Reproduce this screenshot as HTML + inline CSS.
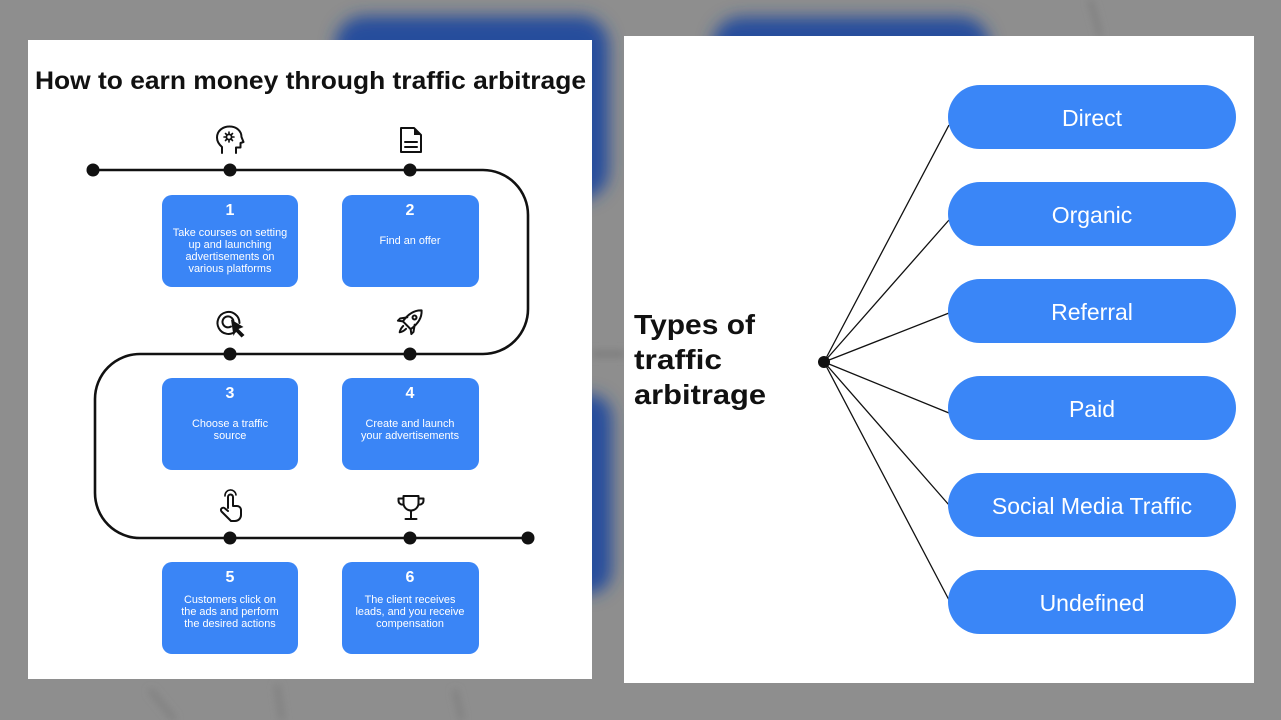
<!DOCTYPE html>
<html><head><meta charset="utf-8"><style>
html,body{margin:0;padding:0;background:#8e8e8e;}
svg{display:block}
text{font-family:"Liberation Sans",Arial,sans-serif}
</style></head><body>
<svg width="1281" height="720" viewBox="0 0 1281 720" xmlns="http://www.w3.org/2000/svg">
<defs>
<filter id="bl" x="-20%" y="-20%" width="140%" height="140%"><feGaussianBlur stdDeviation="8"/></filter>
<filter id="bl2" x="-20%" y="-50%" width="140%" height="200%"><feGaussianBlur stdDeviation="4"/></filter>
</defs>
<rect x="0" y="0" width="1281" height="720" fill="#8e8e8e"/>
<g filter="url(#bl)" fill="#284e9c">
<rect x="335" y="16" width="274" height="184" rx="30"/>
<rect x="712" y="17" width="278" height="110" rx="30"/>
<rect x="540" y="394" width="72" height="200" rx="24"/>
</g>
<g filter="url(#bl2)">
<rect x="592" y="351" width="32" height="6" fill="#7a7a7a"/>
<path d="M150,690 L175,720" stroke="#7c7c7c" stroke-width="4" fill="none"/>
<path d="M277,685 L282,720" stroke="#7c7c7c" stroke-width="4" fill="none"/>
<path d="M455,690 L462,720" stroke="#7c7c7c" stroke-width="4" fill="none"/>
<path d="M1090,0 C1095,15 1098,28 1100,36" stroke="#7c7c7c" stroke-width="4" fill="none"/>
</g>

<!-- Left panel -->
<rect x="28" y="40" width="564" height="639" fill="#ffffff"/>
<text x="35" y="89" font-size="25" font-weight="bold" fill="#111" textLength="551" lengthAdjust="spacingAndGlyphs">How to earn money through traffic arbitrage</text>

<path d="M93,170 H483 A45,45 0 0 1 528,215 V309 A45,45 0 0 1 483,354 H140 A45,45 0 0 0 95,399 V493 A45,45 0 0 0 140,538 H528" fill="none" stroke="#111" stroke-width="2.6"/>
<g fill="#111">
<circle cx="93" cy="170" r="6.5"/><circle cx="230" cy="170" r="6.5"/><circle cx="410" cy="170" r="6.5"/>
<circle cx="230" cy="354" r="6.5"/><circle cx="410" cy="354" r="6.5"/>
<circle cx="230" cy="538" r="6.5"/><circle cx="410" cy="538" r="6.5"/><circle cx="528" cy="538" r="6.5"/>
</g>

<!-- icons -->
<g fill="none" stroke="#111" stroke-width="2" stroke-linejoin="round" stroke-linecap="round">
<path d="M222,153 V147 C218.5,144 217,141 217,137.5 C217,131 222.5,126.5 229.5,126.5 C236.5,126.5 241.5,131 241.5,137 L243.5,142 L240.5,143 V147.5 H236 V153"/>
<circle cx="229" cy="137" r="2.6" stroke-width="1.8"/>
<path d="M229,132 V133.5 M229,140.5 V142 M224,137 H225.5 M232.5,137 H234 M225.5,133.5 L226.5,134.5 M231.5,139.5 L232.5,140.5 M232.5,133.5 L231.5,134.5 M226.5,139.5 L225.5,140.5" stroke-width="1.6"/>
<path d="M401,128 H414 L421,135 V152 H401 Z"/>
<path d="M405,142 H417 M405,147 H417"/>
<path d="M236,331 A11,11 0 1 1 239.5,323" />
<path d="M231,326.5 A5.5,5.5 0 1 1 233.5,322" />
<g transform="rotate(45 411 321)">
<path d="M411,306 C416.5,311 418,318 416.5,327 H405.5 C404,318 405.5,311 411,306 Z"/>
<circle cx="411" cy="316" r="2"/>
<path d="M405.8,321 L401.5,327 L401.5,330 L405.5,327 M416.2,321 L420.5,327 L420.5,330 L416.5,327"/>
<path d="M409,330 C409,334 411,337 411,337 C411,337 413,334 413,330"/>
</g>
<path d="M228,508 V497 A2.5,2.5 0 0 1 233,497 V506 H237 A4,4 0 0 1 241,510 V515 A6,6 0 0 1 235,521 H231 L221.5,511.5 A2.2,2.2 0 0 1 225,508.5 L228,511"/>
<path d="M225,496 A5.5,5.5 0 0 1 236,495" stroke-width="1.6"/>
<path d="M403.5,496 H418.5 V503 A7.5,7.5 0 0 1 403.5,503 Z"/>
<path d="M403.5,498.5 H398.5 V500.5 A4,4 0 0 0 403.5,504.5 M418.5,498.5 H423.5 V500.5 A4,4 0 0 1 418.5,504.5"/>
<path d="M411,511 V518 M405.5,519 H416.5"/>
</g>
<path d="M231,319.5 L243.5,327 L238.5,329 L244.5,335 L241.5,337.5 L235.8,331.5 L233.5,336 Z" fill="#111"/>
<path d="M414,128 V135 H421 Z" fill="#111"/>

<!-- boxes -->
<g fill="#3a85f6">
<rect x="162" y="195" width="136" height="92" rx="10"/>
<rect x="342" y="195" width="137" height="92" rx="10"/>
<rect x="162" y="378" width="136" height="92" rx="10"/>
<rect x="342" y="378" width="137" height="92" rx="10"/>
<rect x="162" y="562" width="136" height="92" rx="10"/>
<rect x="342" y="562" width="137" height="92" rx="10"/>
</g>
<g fill="#ffffff" text-anchor="middle">
<g font-size="16" font-weight="bold">
<text x="230" y="215">1</text><text x="410" y="215">2</text>
<text x="230" y="398">3</text><text x="410" y="398">4</text>
<text x="230" y="582">5</text><text x="410" y="582">6</text>
</g>
<g font-size="10.9">
<text x="230" y="236">Take courses on setting</text>
<text x="230" y="248">up and launching</text>
<text x="230" y="260">advertisements on</text>
<text x="230" y="272">various platforms</text>
<text x="410" y="244">Find an offer</text>
<text x="230" y="427">Choose a traffic</text>
<text x="230" y="439">source</text>
<text x="410" y="427">Create and launch</text>
<text x="410" y="439">your advertisements</text>
<text x="230" y="603">Customers click on</text>
<text x="230" y="615">the ads and perform</text>
<text x="230" y="627">the desired actions</text>
<text x="410" y="603">The client receives</text>
<text x="410" y="615">leads, and you receive</text>
<text x="410" y="627">compensation</text>
</g>
</g>

<!-- Right panel -->
<rect x="624" y="36" width="630" height="647" fill="#ffffff"/>
<g font-size="28" font-weight="bold" fill="#111">
<text x="634" y="334" textLength="121" lengthAdjust="spacingAndGlyphs">Types of</text>
<text x="634" y="369" textLength="88" lengthAdjust="spacingAndGlyphs">traffic</text>
<text x="634" y="404" textLength="132" lengthAdjust="spacingAndGlyphs">arbitrage</text>
</g>
<g stroke="#111" stroke-width="1.3" fill="none">
<path d="M824,362 L949,125 M824,362 L949,220 M824,362 L949,313 M824,362 L949,413 M824,362 L949,505 M824,362 L949,600"/>
</g>
<circle cx="824" cy="362" r="6" fill="#111"/>
<g fill="#3a86f7">
<rect x="948" y="85" width="288" height="64" rx="32"/>
<rect x="948" y="182" width="288" height="64" rx="32"/>
<rect x="948" y="279" width="288" height="64" rx="32"/>
<rect x="948" y="376" width="288" height="64" rx="32"/>
<rect x="948" y="473" width="288" height="64" rx="32"/>
<rect x="948" y="570" width="288" height="64" rx="32"/>
</g>
<g fill="#ffffff" font-size="23" text-anchor="middle">
<text x="1092" y="126">Direct</text>
<text x="1092" y="223">Organic</text>
<text x="1092" y="320">Referral</text>
<text x="1092" y="417">Paid</text>
<text x="1092" y="514">Social Media Traffic</text>
<text x="1092" y="611">Undefined</text>
</g>
</svg>
</body></html>
